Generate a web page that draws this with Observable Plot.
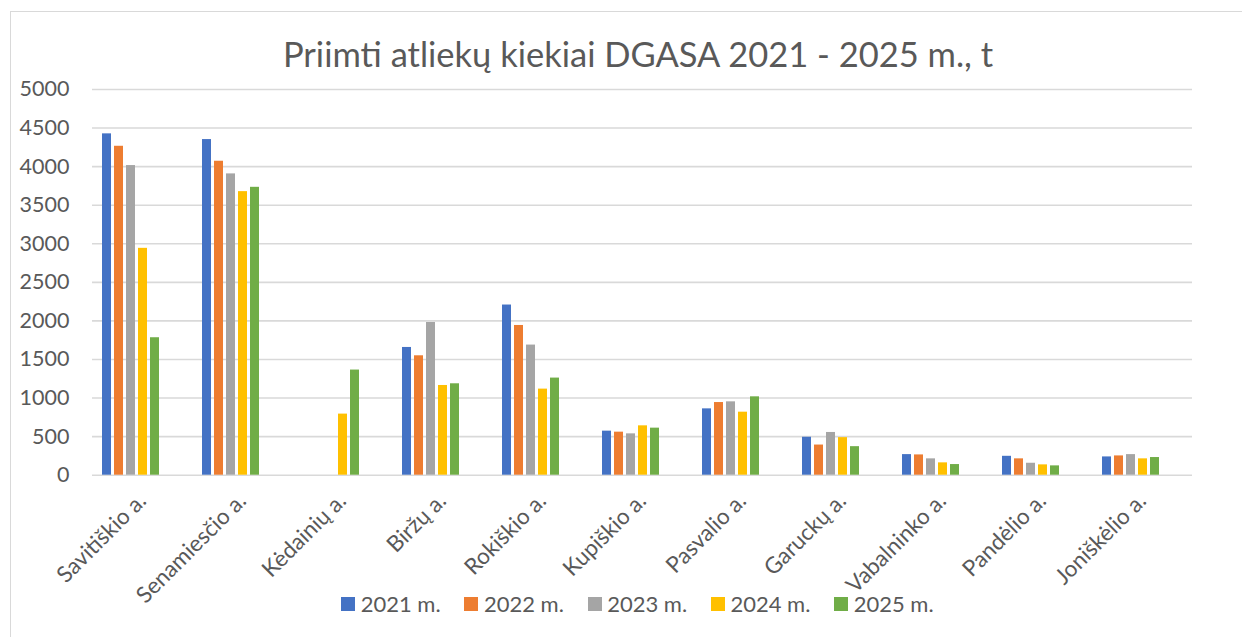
<!DOCTYPE html>
<html>
<head>
<meta charset="utf-8">
<script src="https://cdn.jsdelivr.net/npm/d3@7"></script>
<script src="https://cdn.jsdelivr.net/npm/@observablehq/plot@0.6"></script>
<style>
  html, body { margin: 0; padding: 0; background: #fff; width: 1242px; height: 637px; overflow: hidden; font-family: Lato, "Open Sans", sans-serif; }
  #frame { position: absolute; left: 9.5px; top: 11px; width: 1300px; height: 700px; border-left: 1.5px solid #d9d9d9; border-top: 1.5px solid #d9d9d9; box-sizing: border-box; }
  #title { position: absolute; left: 10px; width: 1256px; top: 33px; line-height: 42px; text-align: center; font-size: 34.5px; color: #595959; white-space: nowrap; }
  #chart { position: absolute; left: 0; top: 0; }
  #legend { position: absolute; left: 341px; top: 591px; display: flex; }
  .item { width: 123.25px; display: flex; align-items: center; font-size: 22px; line-height: 26.4px; color: #595959; white-space: nowrap; }
  .sw { width: 14px; height: 14px; margin-right: 5.7px; flex: none; }
</style>
</head>
<body>
<div id="frame"></div>
<div id="chart"></div>
<div id="title">Priimti atliekų kiekiai DGASA 2021 - 2025 m., t</div>
<div id="legend"></div>
<script>
const categories = ["Savitiškio a.", "Senamiesčio a.", "Kėdainių a.", "Biržų a.", "Rokiškio a.", "Kupiškio a.", "Pasvalio a.", "Garuckų a.", "Vabalninko a.", "Pandėlio a.", "Joniškėlio a."];
const years = ["2021 m.", "2022 m.", "2023 m.", "2024 m.", "2025 m."];
const colors = ["#4472C4", "#ED7D31", "#A5A5A5", "#FFC000", "#70AD47"];
const v2021 = [4425, 4351, null, 1656, 2206, 571, 860, 492, 267, 245, 237];
const v2022 = [4264, 4070, null, 1548, 1941, 558, 942, 391, 263, 212, 250];
const v2023 = [4014, 3906, null, 1980, 1687, 536, 951, 554, 212, 155, 267];
const v2024 = [2941, 3676, 792, 1163, 1116, 640, 817, 487, 160, 134, 212];
const v2025 = [1782, 3732, 1363, 1185, 1259, 610, 1016, 370, 138, 121, 229];
const yTicks = [0, 500, 1000, 1500, 2000, 2500, 3000, 3500, 4000, 4500, 5000];

const series = [v2021, v2022, v2023, v2024, v2025];
const data = [];
categories.forEach((c, i) => {
  years.forEach((y, j) => {
    const v = series[j][i];
    if (v != null) data.push({cat: c, year: y, value: v});
  });
});

const font = "Lato, 'Open Sans', sans-serif";
const chart = Plot.plot({
  width: 1242,
  height: 637,
  marginLeft: 92,
  marginRight: 50,
  marginTop: 89,
  marginBottom: 162.3,
  style: {fontFamily: font, fontSize: "22px", color: "#595959", background: "transparent", overflow: "visible"},
  fx: {domain: categories, padding: 0, label: null, axis: null},
  x: {domain: years, paddingInner: 0.225, paddingOuter: 1.779, align: 0.241, axis: null},
  y: {domain: [0, 5000], axis: null},
  color: {domain: years, range: colors},
  marks: [
    Plot.gridY(yTicks, {stroke: "#d9d9d9", strokeOpacity: 1, strokeWidth: 1.6}),
    Plot.axisY(yTicks, {tickSize: 0, tickPadding: 23, label: null, fontSize: 21.5, fill: "#595959", tickFormat: d => String(d)}),
    Plot.barY(data, {fx: "cat", x: "year", y: "value", fill: "year"}),
    Plot.axisFx({anchor: "bottom", tickRotate: -45, tickSize: 0, tickPadding: 22, label: null, fontSize: 22.5, fill: "#595959"})
  ]
});
document.getElementById("chart").appendChild(chart);

const legend = document.getElementById("legend");
years.forEach((y, j) => {
  const item = document.createElement("div");
  item.className = "item";
  const sw = document.createElement("span");
  sw.className = "sw";
  sw.style.background = colors[j];
  const t = document.createElement("span");
  t.textContent = y;
  item.appendChild(sw);
  item.appendChild(t);
  legend.appendChild(item);
});
</script>
</body>
</html>
